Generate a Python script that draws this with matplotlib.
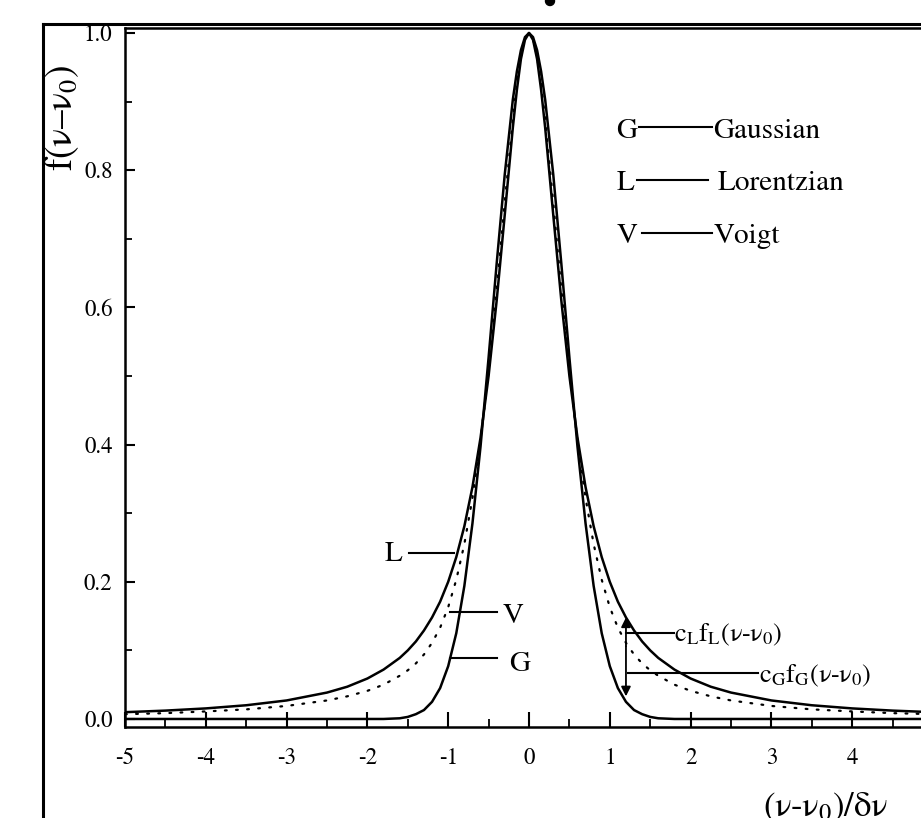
import matplotlib
matplotlib.use("Agg")
import matplotlib.pyplot as plt
from matplotlib.lines import Line2D
from matplotlib.patches import Ellipse

plt.rcParams['font.family'] = ['STIXGeneral', 'DejaVu Sans']
plt.rcParams['mathtext.fontset'] = 'stix'

# ---- data (profiles are symmetric about nu0; half-profile) ----
offset_half = [0, 0.05, 0.1, 0.15, 0.2, 0.3, 0.4, 0.5, 0.6, 0.7, 0.8, 0.9, 1.0, 1.1,
               1.2, 1.3, 1.4, 1.5, 1.6, 1.8, 2.0, 2.25, 2.5, 3.0, 3.5, 4.0, 4.5, 5.0]
gauss_half = [1.0, 0.994, 0.975, 0.944, 0.903, 0.794, 0.664, 0.527, 0.397, 0.285, 0.194,
              0.125, 0.077, 0.045, 0.025, 0.013, 0.007, 0.003, 0.001, 0.0, 0.0, 0.0,
              0.0, 0.0, 0.0, 0.0, 0.0, 0.0]
lorentz_half = [1.0, 0.990, 0.962, 0.917, 0.862, 0.735, 0.610, 0.500, 0.410, 0.338, 0.281,
                0.236, 0.200, 0.171, 0.148, 0.129, 0.113, 0.100, 0.089, 0.072, 0.059,
                0.047, 0.0385, 0.027, 0.020, 0.0154, 0.0122, 0.0099]
voigt_half = [1.0, 0.991, 0.966, 0.925, 0.874, 0.753, 0.626, 0.508, 0.406, 0.322, 0.255,
              0.203, 0.163, 0.133, 0.111, 0.094, 0.081, 0.071, 0.063, 0.050, 0.041,
              0.033, 0.027, 0.019, 0.014, 0.011, 0.0085, 0.007]

x_ticks = [-5, -4, -3, -2, -1, 0, 1, 2, 3, 4, 5]
x_ticklabels = ['-5', '-4', '-3', '-2', '-1', '0', '1', '2', '3', '4', '5']
y_ticks = [0.0, 0.2, 0.4, 0.6, 0.8, 1.0]
y_ticklabels = ['0.0', '0.2', '0.4', '0.6', '0.8', '1.0']

def mirror(half, sign):
    return [sign * v for v in half[::-1]] + list(half[1:])

x = mirror(offset_half, -1)
gauss = mirror(gauss_half, 1)
lorentz = mirror(lorentz_half, 1)
voigt = mirror(voigt_half, 1)

# ---- figure ----
W, H = 921, 818
fig = plt.figure(figsize=(W / 100, H / 100), dpi=100)
ax = fig.add_axes([125 / W, 1 - 727 / H, (933 - 125) / W, (727 - 28) / H])

ax.plot(x, lorentz, color='black', lw=1.8, solid_capstyle='round')
ax.plot(x, gauss, color='black', lw=1.8, solid_capstyle='round')
ax.plot(x, voigt, color='black', lw=1.6, linestyle=(0, (0.8, 4.2)), dash_capstyle='round')

ax.set_xlim(-5, 5)
ax.set_ylim(-0.0117, 1.0073)
ax.set_xticks(x_ticks)
ax.set_xticklabels(x_ticklabels)
ax.set_yticks(y_ticks)
ax.set_yticklabels(y_ticklabels)
ax.set_xticks([-4.5, -3.5, -2.5, -1.5, -0.5, 0.5, 1.5, 2.5, 3.5, 4.5], minor=True)
ax.set_yticks([0.1, 0.3, 0.5, 0.7, 0.9], minor=True)
ax.tick_params(axis='x', which='major', direction='in', length=10.5, width=1.5,
               labelsize=16.5, pad=15)
ax.tick_params(axis='x', which='minor', direction='in', length=6, width=1.3)
ax.tick_params(axis='y', which='major', direction='in', length=7.5, width=1.5,
               labelsize=16.5, pad=9)
ax.tick_params(axis='y', which='minor', direction='in', length=5, width=1.3)
for s in ax.spines.values():
    s.set_linewidth(1.8)

# ---- curve labels with leader lines ----
lead = dict(color='black', lw=1.5)
FS = 21
ax.plot([-1.485, -0.93], [0.242, 0.242], **lead)
ax.text(-1.56, 0.240, 'L', fontsize=FS, ha='right', va='center')
ax.plot([-0.98, -0.40], [0.156, 0.156], **lead)
ax.text(-0.33, 0.150, 'V', fontsize=FS, ha='left', va='center')
ax.plot([-0.98, -0.40], [0.089, 0.089], **lead)
ax.text(-0.25, 0.080, 'G', fontsize=FS, ha='left', va='center')

# arrows from Voigt to the Lorentzian and Gaussian parts at nu-nu0 = 1.2
i_arr = x.index(1.2)
arr = dict(arrowstyle='-|>', color='black', lw=1.3, mutation_scale=14,
           shrinkA=0, shrinkB=0)
ax.annotate('', xy=(x[i_arr], lorentz[i_arr]), xytext=(x[i_arr], voigt[i_arr] - 0.005),
            arrowprops=arr)
ax.annotate('', xy=(x[i_arr], gauss[i_arr] + 0.008), xytext=(x[i_arr], voigt[i_arr] - 0.005),
            arrowprops=arr)
ax.plot([1.20, 1.79], [0.125, 0.125], **lead)
ax.text(1.80, 0.122, 'c$_{\\mathrm{L}}$f$_{\\mathrm{L}}$(ν-ν$_{0}$)', fontsize=19,
        ha='left', va='center')
ax.plot([1.22, 2.84], [0.067, 0.067], **lead)
ax.text(2.85, 0.063, 'c$_{\\mathrm{G}}$f$_{\\mathrm{G}}$(ν-ν$_{0}$)', fontsize=19,
        ha='left', va='center')

# ---- key (top right) ----
ax.text(1.08, 0.856, 'G', fontsize=FS, ha='left', va='center')
ax.plot([1.36, 2.26], [0.863, 0.863], **lead)
ax.text(2.28, 0.856, 'Gaussian', fontsize=FS, ha='left', va='center')
ax.text(1.08, 0.780, 'L', fontsize=FS, ha='left', va='center')
ax.plot([1.34, 2.22], [0.786, 0.786], **lead)
ax.text(2.33, 0.780, 'Lorentzian', fontsize=FS, ha='left', va='center')
ax.text(1.08, 0.703, 'V', fontsize=FS, ha='left', va='center')
ax.plot([1.40, 2.26], [0.708, 0.708], **lead)
ax.text(2.28, 0.703, 'Voigt', fontsize=FS, ha='left', va='center')

# ---- axis titles ----
fig.text(62 / W, 1 - 118 / H, 'f(ν–ν$_{0}$)', fontsize=27, rotation=90,
         ha='center', va='center')
fig.text(763 / W, 1 - 791 / H, '(ν-ν$_{0}$)/δν', fontsize=25,
         ha='left', va='top')

# ---- outer frame of the scanned figure ----
fx, fy = 43 / W, 1 - 24 / H
fig.add_artist(Line2D([fx, fx], [0, fy], transform=fig.transFigure, color='black', lw=2.2))
fig.add_artist(Line2D([fx, 1.0], [fy, fy], transform=fig.transFigure, color='black', lw=2.2))
fig.add_artist(Ellipse((550 / W, 1 - 1 / H), 9 / W, 9 / H, transform=fig.transFigure,
                       color='black'))

fig.savefig('out.png', dpi=100)
